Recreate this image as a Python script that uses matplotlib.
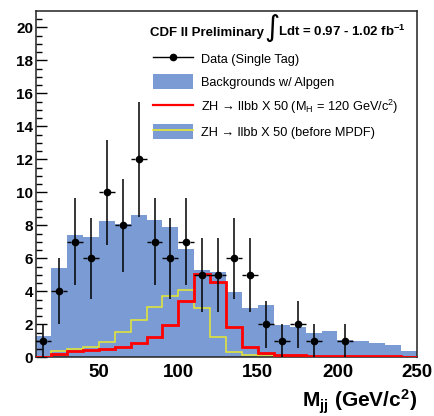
import numpy as np
import matplotlib
matplotlib.use('Agg')
import matplotlib.pyplot as plt
from matplotlib.lines import Line2D
from matplotlib.patches import Patch

plt.rcParams['font.family'] = ['Liberation Sans', 'DejaVu Sans']
plt.rcParams['mathtext.fontset'] = 'custom'
plt.rcParams['mathtext.rm'] = 'Liberation Sans'
plt.rcParams['mathtext.bf'] = 'Liberation Sans:bold'
plt.rcParams['mathtext.it'] = 'Liberation Sans:italic'

# dijet mass bins, 10 GeV wide
edges = np.arange(10, 251, 10)
centers = edges[:-1] + 5

# observed events (single tag)
data = [1, 4, 7, 6, 10, 8, 12, 7, 6, 7, 5, 5, 6, 5, 2, 1, 2, 1, 0, 1, 0, 0, 0, 0]

# background prediction with Alpgen
bkg = [1.3, 5.4, 7.4, 7.3, 8.25, 8.1, 8.65, 8.3, 7.9, 6.55, 5.3, 5.15,
       3.95, 3.0, 3.2, 1.95, 1.85, 1.5, 1.6, 1.02, 0.98, 0.85, 0.75, 0.4]

# ZH -> llbb x50, M_H = 120
zh = [0.04, 0.18, 0.38, 0.46, 0.48, 0.62, 0.85, 1.21, 1.96, 3.41, 5.05, 4.58,
      1.82, 0.61, 0.28, 0.16, 0.12, 0.1, 0.08, 0.07, 0.06, 0.05, 0.05, 0.04]

# ZH -> llbb x50 before MPDF
zh_old = [0.0, 0.4, 0.5, 0.64, 0.95, 1.55, 2.26, 3.07, 3.72, 4.08, 2.97, 1.25,
          0.34, 0.14, 0.06, 0.03, 0.02, 0.01, 0.0, 0.0, 0.0, 0.0, 0.0, 0.0]

blue = '#7a9bd3'
yellow = '#e8e830'

fig = plt.figure(figsize=(4.35, 4.16), dpi=100)
ax = fig.add_axes([36/435, 1 - 357.3/416, 381/435, 346.3/416])

ax.stairs(bkg, edges, fill=True, color=blue, zorder=1)
ax.stairs(zh_old, edges, color=yellow, lw=1.1, zorder=2)
ax.stairs(zh, edges, color='red', lw=2.0, zorder=3)

d = np.array(data, dtype=float)
m = d > 0
err = np.sqrt(d[m])
ax.errorbar(centers[m], d[m], yerr=err, fmt='o', color='black', ms=4.5,
            elinewidth=1.1, capsize=0, zorder=5)
# horizontal bin-width bars with a gap around the marker
ax.hlines(d[m], centers[m] - 5, centers[m] - 2.2, color='black', lw=1.0, zorder=5)
ax.hlines(d[m], centers[m] + 2.2, centers[m] + 5, color='black', lw=1.0, zorder=5)

ax.set_xlim(10.5, 250)
ax.set_ylim(0, 21)
ax.set_xticks([50, 100, 150, 200, 250])
ax.set_yticks(np.arange(0, 21, 2))
ax.set_yticks(np.arange(0, 21, 0.5), minor=True)
ax.tick_params(axis='y', which='major', direction='in', length=8, width=1,
               pad=2, labelsize=11)
ax.tick_params(axis='y', which='minor', direction='in', length=4.3, width=1)
ax.tick_params(axis='x', which='both', length=0, pad=5, labelsize=13.5)
for lab in ax.get_xticklabels() + ax.get_yticklabels():
    lab.set_fontweight('bold')
for s in ax.spines.values():
    s.set_linewidth(1.1)
    s.set_color('#222222')

fig.text(417/435, (416 - 407.5)/416, r'M$_{\mathbf{jj}}$ (GeV/c$^{\mathbf{2}}$)',
         ha='right', va='baseline', fontsize=15, fontweight='bold')

# header
ax.text(0.299, 0.928, 'CDF II Preliminary', transform=ax.transAxes,
        fontsize=9.5, fontweight='bold', va='baseline')
ax.text(0.619, 0.952, '\u222b', transform=ax.transAxes, family='DejaVu Sans',
        fontsize=21, ha='center', va='center')
ax.text(0.635, 0.928, r'Ldt = 0.97 - 1.02 fb$^{\mathbf{-1}}$', transform=ax.transAxes,
        fontsize=9.5, fontweight='bold', va='baseline')

handles = [
    Line2D([], [], color='black', marker='o', ms=4.5, lw=1.0),
    Patch(facecolor=blue, edgecolor='none'),
    Line2D([], [], color='red', lw=1.6),
    (Patch(facecolor=blue, edgecolor='none'), Line2D([], [], color=yellow, lw=1.2)),
]
labels = [
    'Data (Single Tag)',
    'Backgrounds w/ Alpgen',
    'ZH \u2192 llbb X 50 (M$_{\\mathrm{H}}$ = 120 GeV/c$^{\\mathrm{2}}$)',
    'ZH \u2192 llbb X 50 (before MPDF)',
]
ax.legend(handles, labels, loc='upper left', bbox_to_anchor=(152.7/435, 1 - 51/416),
          bbox_transform=fig.transFigure, frameon=False, fontsize=9.2,
          handlelength=3.15, handleheight=1.4, labelspacing=0.66,
          handletextpad=0.6, borderpad=0, borderaxespad=0)

fig.savefig('out.png', dpi=100)
